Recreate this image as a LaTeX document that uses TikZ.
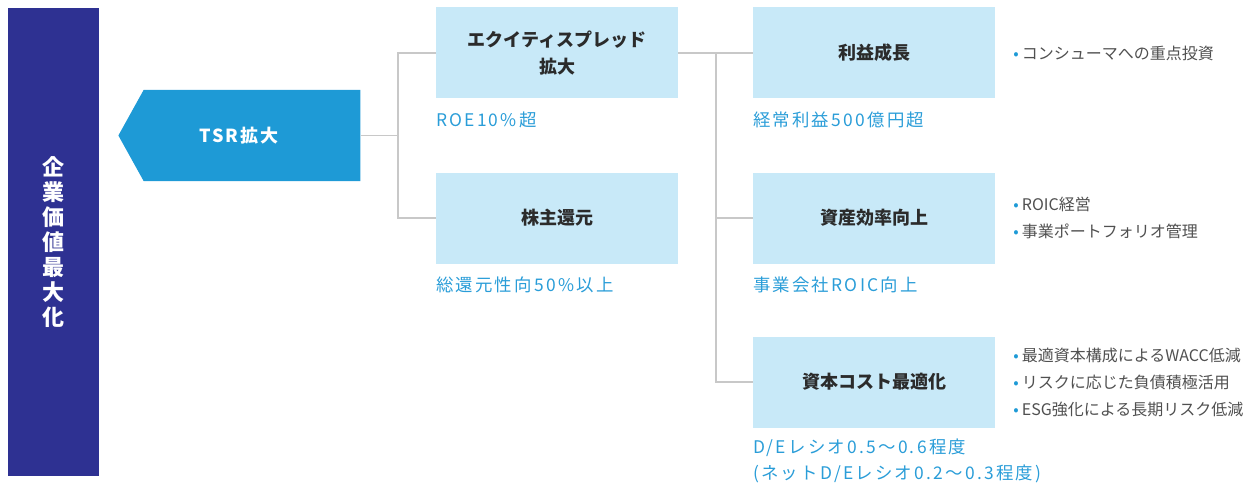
\documentclass[tikz,border=0pt]{standalone}
\usepackage{fontspec}
\setmainfont{Noto Sans CJK JP}
\newfontfamily\kpifont[LetterSpace=13]{Noto Sans CJK JP}
\newfontfamily\tsrfont[LetterSpace=10]{Noto Sans CJK JP}
\usepackage{tikz}
\usetikzlibrary{shapes.symbols}
\definecolor{navy}{HTML}{2E3192}
\definecolor{tsrblue}{HTML}{1E9AD6}
\definecolor{boxblue}{HTML}{C8E9F8}
\definecolor{kpiblue}{HTML}{2A9DD8}
\definecolor{textdark}{HTML}{2B2B2B}
\definecolor{notegray}{HTML}{505050}
\definecolor{linegray}{HTML}{C8C8C8}
\tikzstyle{goal} = [rectangle, minimum width=91pt, minimum height=468pt, inner sep=0pt, align=center, fill=navy, text=white, font=\bfseries\fontsize{22}{25}\selectfont]
\tikzstyle{start} = [signal, signal to=west, signal pointer angle=122, minimum width=242pt, minimum height=91pt, inner sep=0pt, fill=tsrblue, text=white, font=\tsrfont\bfseries\fontsize{18}{22}\selectfont]
\tikzstyle{process} = [rectangle, minimum width=242pt, minimum height=91pt, inner sep=0pt, text centered, align=center, fill=boxblue, text=textdark, font=\bfseries\fontsize{18}{27}\selectfont]
\tikzstyle{kpi} = [anchor=west, inner sep=0pt, align=left, text=kpiblue, font=\kpifont\fontsize{17.4}{26}\selectfont]
\tikzstyle{note} = [anchor=west, inner sep=0pt, align=left, text=notegray, font=\fontsize{16}{27}\selectfont]
\tikzstyle{line} = [draw=linegray, line width=1.3pt]
\newcommand{\bul}{{\color{tsrblue}\textbullet}\hspace{3pt}}

\begin{document}
\begin{tikzpicture}[x=1pt, y=-1pt, node distance=165pt]
		\useasboundingbox (0,0) rectangle (1258,484);

		\node (goal) [goal] at (53.5,242) {企\\業\\価\\値\\最\\大\\化};
		\node (tsr) [start] at (252,135.5) {TSR拡大\hspace*{26pt}};
		\node (pro1) [process] at (557,53) {エクイティスプレッド\\拡大};
		\node (pro2) [process, below of=pro1] {株主還元};
		\node (pro3) [process, right of=pro1, xshift=152pt] {利益成長};
		\node (pro4) [process, below of=pro3] {資産効率向上};
		\node (pro5) [process, below of=pro4, yshift=1pt] {資本コスト最適化};

		% KPI labels
		\node (kpi1) [kpi] at ([yshift=-21pt]pro1.south west) {ROE10\%超};
		\node (kpi2) [kpi] at ([yshift=-21pt]pro2.south west) {総還元性向50\%以上};
		\node (kpi3) [kpi] at ([yshift=-21pt]pro3.south west) {経常利益500億円超};
		\node (kpi4) [kpi] at ([yshift=-21pt]pro4.south west) {事業会社ROIC向上};
		\node (kpi5) [kpi] at ([yshift=-33pt]pro5.south west) {D/Eレシオ0.5～0.6程度\\(ネットD/Eレシオ0.2～0.3程度)};

		% measures
		\node (note3) [note] at ([xshift=18pt]pro3.east) {\bul コンシューマへの重点投資};
		\node (note4) [note] at ([xshift=18pt]pro4.east) {\bul ROIC経営\\\bul 事業ポートフォリオ管理};
		\node (note5) [note] at ([xshift=18pt]pro5.east) {\bul 最適資本構成によるWACC低減\\\bul リスクに応じた負債積極活用\\\bul ESG強化による長期リスク低減};

		\coordinate (j1) at (398,135.5);
		\coordinate (j2) at (716,53);
		\draw [line] (tsr.east) -- (j1);
		\draw [line] (pro1.west) -| (j1) |- (pro2.west);
		\draw [line] (pro1.east) -- (pro3.west);
		\draw [line] (j2) |- (pro4.west);
		\draw [line] (j2) |- (pro5.west);
	\end{tikzpicture}
\end{document}
